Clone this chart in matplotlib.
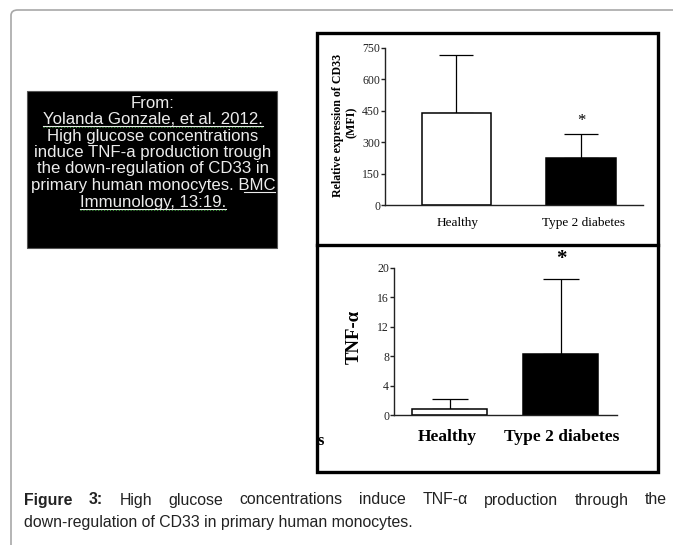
import numpy as np
import matplotlib
matplotlib.use("Agg")
import matplotlib.pyplot as plt
from matplotlib.patches import Rectangle, FancyBboxPatch
from matplotlib.lines import Line2D

# Data
groups = ["Healthy", "Type 2 diabetes"]
cd33_mean = [440, 226]
cd33_err = [276, 111]
cd33_ticks = [0, 150, 300, 450, 600, 750]
tnf_mean = [0.8, 8.3]
tnf_err = [1.4, 10.2]
tnf_ticks = [0, 4, 8, 12, 16, 20]
bar_colors = ["white", "black"]

W, H = 673, 545
SERIF = ["Liberation Serif", "DejaVu Serif"]
SANS = ["Liberation Sans", "DejaVu Sans"]


def box(x0, y0, x1, y1):
    # pixel box (top-left origin) -> figure fraction rect
    return [x0 / W, 1 - y1 / H, (x1 - x0) / W, (y1 - y0) / H]


def fx(x):
    return x / W


def fy(y):
    return 1 - y / H


fig = plt.figure(figsize=(W / 100, H / 100), dpi=100)

# outer gray rounded frame
fig.patches.append(FancyBboxPatch((fx(11), fy(600)), fx(720) - fx(11), fy(10) - fy(600),
                                  boxstyle="round,pad=0,rounding_size=0.01",
                                  transform=fig.transFigure, fill=False,
                                  edgecolor="#a8a8a8", lw=1.2))

# black frame around the two panels + divider
fig.patches.append(Rectangle((fx(317), fy(472)), fx(658) - fx(317), fy(33) - fy(472),
                             transform=fig.transFigure, fill=False, edgecolor="black", lw=2.4))
fig.lines.append(Line2D([fx(317), fx(658)], [fy(245), fy(245)], transform=fig.transFigure,
                        color="black", lw=2.4))

# black citation box
fig.patches.append(Rectangle((fx(27), fy(248)), fx(277) - fx(27), fy(91) - fy(248),
                             transform=fig.transFigure, facecolor="black", edgecolor="#555555", lw=0.8))
cite_lines = ["From:",
              "Yolanda Gonzale, et al. 2012.",
              "High glucose concentrations",
              "induce TNF-a production trough",
              "the down-regulation of CD33 in",
              "primary human monocytes. BMC",
              "Immunology, 13:19."]
cite_y = [103, 119.5, 136, 152.5, 169, 185.5, 202]
cite_texts = []
for s, y in zip(cite_lines, cite_y):
    t = fig.text(fx(153), fy(y), s, ha="center", va="center", color="#ececec",
                 fontsize=12.1, family=SANS)
    cite_texts.append(t)


def style_axes(ax, fs):
    for side in ["top", "right"]:
        ax.spines[side].set_visible(False)
    for side in ["left", "bottom"]:
        ax.spines[side].set_linewidth(1.0)
        ax.spines[side].set_color("#222222")
    ax.tick_params(axis="y", length=3, width=1, direction="out", labelsize=fs,
                   colors="#222222", pad=0.5)
    ax.tick_params(axis="x", length=0)
    for lab in ax.get_yticklabels():
        lab.set_family(SERIF)


# Top panel: CD33 expression
ax1 = fig.add_axes(box(385, 48, 643, 205))
x = np.arange(len(groups))
ax1.bar(x, cd33_mean, width=0.555, color=bar_colors, edgecolor="black", lw=1.1, zorder=2)
ax1.errorbar(x, cd33_mean, yerr=[[0, 0], cd33_err], fmt="none", ecolor="black",
             elinewidth=0.9, capsize=12.5, capthick=0.9, zorder=1)
ax1.set_ylim(0, 750)
ax1.set_xlim(-0.574, 1.498)
ax1.set_yticks(cd33_ticks)
ax1.set_xticks([])
style_axes(ax1, 8.5)
ax1.text(1, cd33_mean[1] + cd33_err[1] + 65, "*", ha="center", va="center",
         fontsize=12, family=SERIF)
fig.text(fx(458), fy(223), groups[0], ha="center", va="center", fontsize=9.5, family=SERIF)
fig.text(fx(583), fy(223), groups[1], ha="center", va="center", fontsize=9.5, family=SERIF)
fig.text(fx(338), fy(125), "Relative expression of CD33", rotation=90, ha="center", va="center",
         fontsize=8.6, fontweight="bold", family=SERIF)
fig.text(fx(352), fy(122), "(MFI)", rotation=90, ha="center", va="center",
         fontsize=8.6, fontweight="bold", family=SERIF)

# Bottom panel: TNF-alpha
ax2 = fig.add_axes(box(394, 268, 617, 415))
ax2.bar(x, tnf_mean, width=0.676, color=bar_colors, edgecolor="black", lw=1.1, zorder=2)
ax2.errorbar(x, tnf_mean, yerr=[[0, 0], tnf_err], fmt="none", ecolor="black",
             elinewidth=0.9, capsize=13.3, capthick=0.9, zorder=1)
ax2.set_ylim(0, 20)
ax2.set_xlim(-0.5, 1.509)
ax2.set_yticks(tnf_ticks)
ax2.set_xticks([])
style_axes(ax2, 8.5)
fig.text(fx(561), fy(259), "*", ha="center", va="center", fontsize=15, fontweight="bold",
         family=SERIF)
fig.text(fx(447), fy(437), groups[0], ha="center", va="center", fontsize=12.5,
         fontweight="bold", family=SERIF)
fig.text(fx(562), fy(437), groups[1], ha="center", va="center", fontsize=12.5,
         fontweight="bold", family=SERIF)
fig.text(fx(354), fy(337), "TNF-α", rotation=90, ha="center", va="center", fontsize=13.5,
         fontweight="bold", family=SERIF)
fig.text(fx(321), fy(441), "s", ha="center", va="center", fontsize=12, fontweight="bold",
         family=SERIF)

# Caption: first line justified between x=24 and x=667
fig.canvas.draw()
r = fig.canvas.get_renderer()
cap_fs = 11.4
cap_words = [("Figure", "bold"), ("3:", "bold")] + \
    [(w, "normal") for w in "High glucose concentrations induce TNF-α production through the".split()]
cap_objs = []
total = 0
for w, wt in cap_words:
    t = fig.text(0, fy(500), w, ha="left", va="center", fontsize=cap_fs, fontweight=wt,
                 family=SANS, color="#222222")
    total += t.get_window_extent(r).width
    cap_objs.append(t)
gap = (667 - 24 - total) / (len(cap_objs) - 1)
xpos = 24
for t in cap_objs:
    t.set_x(fx(xpos))
    xpos += t.get_window_extent(r).width + gap
fig.text(fx(24), fy(523), "down-regulation of CD33 in primary human monocytes.",
         ha="left", va="center", fontsize=cap_fs, family=SANS, color="#222222")

# underline the reference lines in the citation box
for i in [1, 6]:
    e = cite_texts[i].get_window_extent(r)
    fig.lines.append(Line2D([e.x0 / W, e.x1 / W], [(e.y0 + 1) / H, (e.y0 + 1) / H],
                            transform=fig.transFigure, color="#ececec", lw=0.8))
    fig.lines.append(Line2D([e.x0 / W, e.x1 / W], [(e.y0) / H, (e.y0) / H],
                            transform=fig.transFigure, color="#3a9a3a", lw=0.8, ls=":"))
e = cite_texts[5].get_window_extent(r)
fig.lines.append(Line2D([(e.x1 - 31) / W, e.x1 / W], [(e.y0 + 1) / H, (e.y0 + 1) / H],
                        transform=fig.transFigure, color="#ececec", lw=0.8))

fig.savefig("out.png", dpi=100)
